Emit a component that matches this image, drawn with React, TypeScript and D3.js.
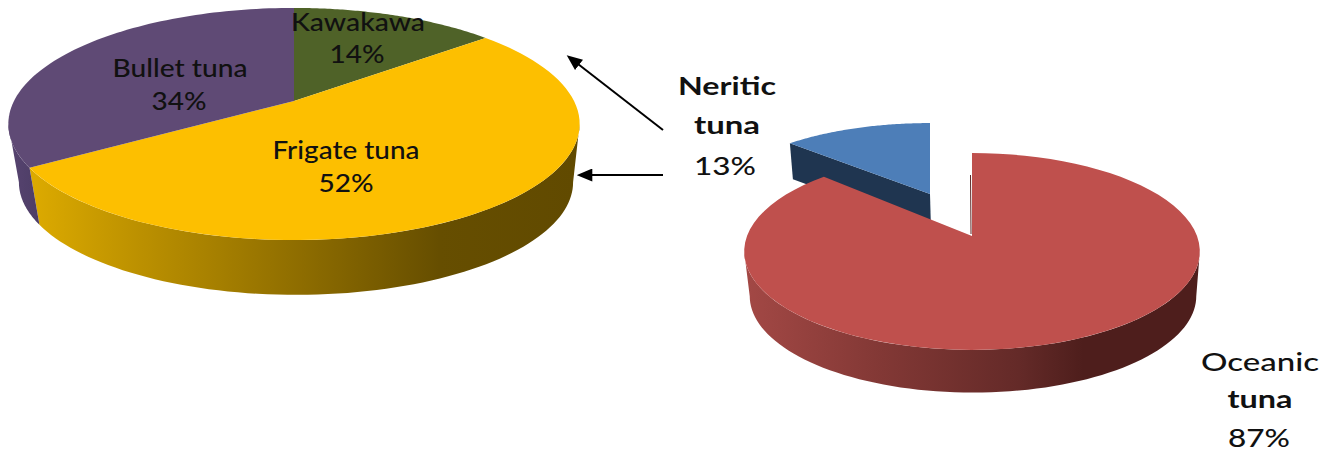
import React from "react";
import * as d3 from "d3";

// Species share of the neritic catch
const neriticNames = ["Kawakawa", "Frigate tuna", "Bullet tuna"];
const neriticShares = [14, 52, 34];
const neriticTop = ["#4f6228", "#fdbf00", "#5f4a75"];
const neriticSide = ["#3a4a1e", "url(#frigateSide)", "url(#bulletSide)"];

// Neritic against oceanic tuna
const groupNames = ["Oceanic tuna", "Neritic tuna"];
const groupShares = [87, 13];
const groupTop = ["#bf504d", "#4d7eb8"];
const groupSide = ["url(#oceanicSide)", "#1f3550"];

type Tilt = {
  x: number; y: number;      // slice apex on the page
  a: number; b: number;      // horizontal and vertical reach
  k: number;                 // perspective strength
  depth: number;             // thickness of the disc
  rim: number;               // shrink of the lower rim
  rimDx: number;             // sideways offset of the lower rim
};

const leftDisc: Tilt = { x: 294, y: 101, a: 280, b: 111.5, k: 0.198, depth: 59, rim: 0.97, rimDx: 2 };
const rightDisc: Tilt = { x: 972, y: 236, a: 225, b: 96, k: 0.157, depth: 45, rim: 0.98, rimDx: 1 };

// Project an angle on the unit disc to the page, nearer edges drawn larger
const project = (t: Tilt, angle: number, lower = false, sx = 1, sy = 1): [number, number] => {
  const u = Math.sin(angle);
  const v = -Math.cos(angle);
  const w = 1 - t.k * v;
  const s = lower ? t.rim : 1;
  return [
    t.x + (t.a * sx * s * u) / w + (lower ? t.rimDx : 0),
    t.y + (t.b * sy * s * v) / w + (lower ? t.depth : 0),
  ];
};

const outline = d3.line<[number, number]>().curve(d3.curveLinear);

const arcAngles = (start: number, end: number) =>
  d3.range(0, 81).map((i) => start + ((end - start) * i) / 80);

const topFace = (t: Tilt, start: number, end: number, sx = 1, sy = 1) =>
  outline([[t.x, t.y], ...arcAngles(start, end).map((a) => project(t, a, false, sx, sy))])! + "Z";

// Outer wall of a slice, limited to the stretch between the disc's two widest points
const sideFace = (t: Tilt, start: number, end: number) => {
  const widest = Math.acos(-t.k);
  const from = Math.max(start, widest);
  const to = Math.min(end, 2 * Math.PI - widest);
  if (from >= to) return null;
  const angles = arcAngles(from, to);
  return (
    outline([
      ...angles.map((a) => project(t, a)),
      ...angles.slice().reverse().map((a) => project(t, a, true)),
    ])! + "Z"
  );
};

const pie = d3.pie<number>().sort(null).value((d) => d);

type Label = { text: string; x: number; y: number; width: number; weight?: number };

const labels: Label[] = [
  { text: "Kawakawa", x: 358, y: 31, width: 134 },
  { text: "14%", x: 357, y: 63, width: 55 },
  { text: "Bullet tuna", x: 180, y: 77, width: 135 },
  { text: "34%", x: 179, y: 110, width: 55 },
  { text: "Frigate tuna", x: 346, y: 159, width: 147 },
  { text: "52%", x: 346, y: 192, width: 55 },
  { text: "Neritic", x: 727, y: 95, width: 98, weight: 700 },
  { text: "tuna", x: 727, y: 134, width: 66, weight: 700 },
  { text: "13%", x: 725, y: 175, width: 62 },
  { text: "Oceanic", x: 1260, y: 371, width: 118 },
  { text: "tuna", x: 1260, y: 408, width: 65, weight: 700 },
  { text: "87%", x: 1259, y: 447, width: 62 },
];

const arrows = [
  { x1: 663, y1: 130, x2: 578, y2: 64 },
  { x1: 663, y1: 175, x2: 591, y2: 175 },
];

export default function App() {
  const neriticArcs = pie(neriticShares);
  const groupArcs = pie(groupShares);
  const [oceanic, neritic] = groupArcs;
  const cutTop = project(rightDisc, 0);

  return (
    <svg
      width={1336}
      height={452}
      viewBox="0 0 1336 452"
      style={{ position: "absolute", left: 0, top: 0, background: "#fff" }}
    >
      <defs>
        <linearGradient id="frigateSide" gradientUnits="userSpaceOnUse" x1={33} x2={575} y1={0} y2={0}>
          <stop offset="0" stopColor="#dcaa00" />
          <stop offset="0.2" stopColor="#bb9000" />
          <stop offset="0.5" stopColor="#8d6c00" />
          <stop offset="0.75" stopColor="#664e00" />
          <stop offset="1" stopColor="#614a00" />
        </linearGradient>
        <linearGradient id="bulletSide" gradientUnits="userSpaceOnUse" x1={8} x2={40} y1={0} y2={0}>
          <stop offset="0" stopColor="#574470" />
          <stop offset="1" stopColor="#4d3d66" />
        </linearGradient>
        <linearGradient id="oceanicSide" gradientUnits="userSpaceOnUse" x1={745} x2={1202} y1={0} y2={0}>
          <stop offset="0" stopColor="#a34845" />
          <stop offset="0.3" stopColor="#823835" />
          <stop offset="0.6" stopColor="#642a28" />
          <stop offset="0.74" stopColor="#4e1e1c" />
          <stop offset="1" stopColor="#4e1e1c" />
        </linearGradient>
        <marker id="head" viewBox="0 0 12 10" refX="1" refY="5" markerWidth="16" markerHeight="13" markerUnits="userSpaceOnUse" orient="auto">
          <path d="M12,0 L0,5 L12,10 Z" fill="#000" transform="rotate(180 6 5)" />
        </marker>
      </defs>

      {/* Left disc: sides first, the top faces sit over them */}
      {neriticArcs.map((d, i) => {
        const side = sideFace(leftDisc, d.startAngle, d.endAngle);
        return side ? <path key={neriticNames[i] + "-side"} d={side} fill={neriticSide[i]} /> : null;
      })}
      {neriticArcs.map((d, i) => (
        <path key={neriticNames[i]} d={topFace(leftDisc, d.startAngle, d.endAngle)} fill={neriticTop[i]} />
      ))}

      {/* Neritic slice, pulled out behind the main disc */}
      {(() => {
        const shiftX = -42;
        const shiftY = -42;
        const nx = 0.946;
        const ny = 0.855;
        const t = { ...rightDisc, x: rightDisc.x + shiftX, y: rightDisc.y + shiftY };
        const corner = project(t, neritic.startAngle, false, nx, ny);
        const cut: [number, number][] = [
          [t.x, t.y],
          corner,
          [corner[0] + 3, corner[1] + 36],
          [t.x + 1, t.y + 36],
        ];
        return (
          <g>
            <path d={outline(cut)! + "Z"} fill={groupSide[1]} />
            <path key={groupNames[1]} d={topFace(t, neritic.startAngle, neritic.endAngle, nx, ny)} fill={groupTop[1]} />
          </g>
        );
      })()}

      {/* Oceanic slice */}
      <path d={sideFace(rightDisc, oceanic.startAngle, oceanic.endAngle)!} fill={groupSide[0]} />
      <path key={groupNames[0]} d={topFace(rightDisc, oceanic.startAngle, oceanic.endAngle)} fill={groupTop[0]} />
      <line x1={cutTop[0] - 1.5} y1={cutTop[1] + 22} x2={rightDisc.x - 1} y2={rightDisc.y - 2} stroke="#5a2a28" strokeWidth={1} />

      {arrows.map((a) => (
        <line key={a.y1} x1={a.x1} y1={a.y1} x2={a.x2} y2={a.y2} stroke="#000" strokeWidth={2} markerEnd="url(#head)" />
      ))}

      {labels.map((l) => (
        <text
          key={l.text + l.x}
          x={l.x}
          y={l.y}
          textAnchor="middle"
          textLength={l.width}
          lengthAdjust="spacingAndGlyphs"
          fontFamily="Lato, 'Open Sans', sans-serif"
          fontSize={24}
          fontWeight={l.weight ?? 500}
          fill="#111"
        >
          {l.text}
        </text>
      ))}
    </svg>
  );
}
